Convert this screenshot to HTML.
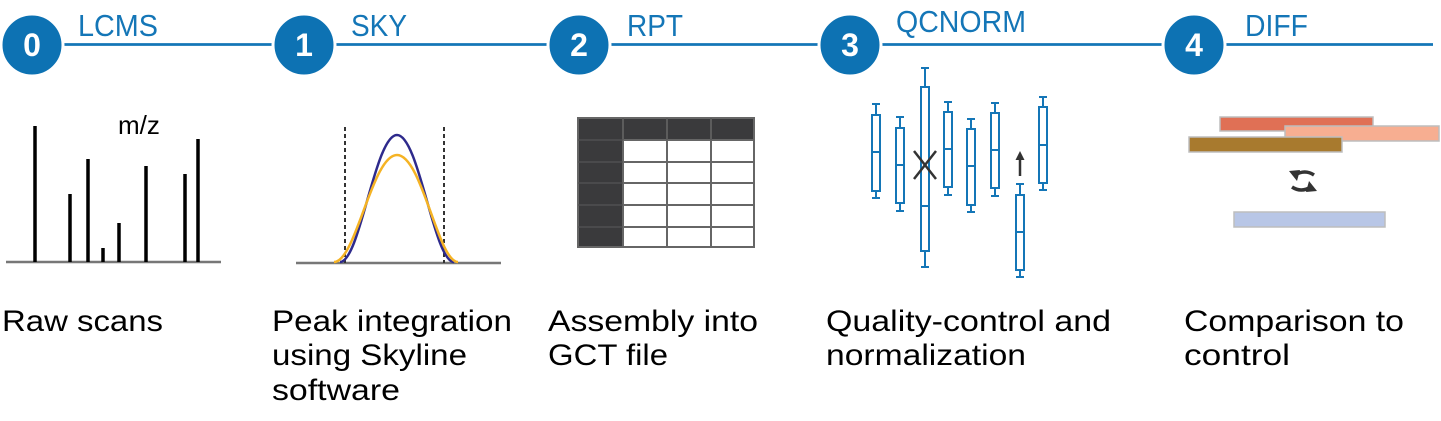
<!DOCTYPE html>
<html><head><meta charset="utf-8"><style>
html,body{margin:0;padding:0;background:#fff;}
svg{display:block;}
text{font-family:"Liberation Sans",sans-serif;}
</style></head><body>
<svg width="1441" height="421" viewBox="0 0 1441 421" xmlns="http://www.w3.org/2000/svg">
<line x1="50" y1="44.5" x2="1433" y2="44.5" stroke="#1476b7" stroke-width="2.8"/>
<g fill="#0d72b3" stroke="#fff" stroke-width="3">
<circle cx="32" cy="45" r="31"/>
<circle cx="304" cy="45" r="31"/>
<circle cx="579" cy="45" r="31"/>
<circle cx="850" cy="45" r="31"/>
<circle cx="1194" cy="45" r="31"/>
</g>
<g fill="#fff" font-size="32" font-weight="bold" text-anchor="middle">
<text x="32" y="56">0</text><text x="304" y="56">1</text><text x="579" y="56">2</text><text x="850" y="56">3</text><text x="1194" y="56">4</text>
</g>
<g fill="#1476b7" font-size="31">
<text x="78" y="36" textLength="80" lengthAdjust="spacingAndGlyphs">LCMS</text>
<text x="351" y="36" textLength="56" lengthAdjust="spacingAndGlyphs">SKY</text>
<text x="627" y="36" textLength="56" lengthAdjust="spacingAndGlyphs">RPT</text>
<text x="896" y="32" textLength="130" lengthAdjust="spacingAndGlyphs">QCNORM</text>
<text x="1245" y="36" textLength="63" lengthAdjust="spacingAndGlyphs">DIFF</text>
</g>
<line x1="6" y1="262" x2="221" y2="262" stroke="#777" stroke-width="2.5"/>
<g stroke="#000" stroke-width="3.5">
<line x1="35" y1="262" x2="35" y2="126"/>
<line x1="70" y1="262" x2="70" y2="194"/>
<line x1="88" y1="262" x2="88" y2="159"/>
<line x1="103" y1="262" x2="103" y2="248"/>
<line x1="119" y1="262" x2="119" y2="223"/>
<line x1="146" y1="262" x2="146" y2="166"/>
<line x1="185" y1="262" x2="185" y2="174"/>
<line x1="198" y1="262" x2="198" y2="139"/>
</g>
<text x="118" y="134" font-size="26">m/z</text>
<line x1="296" y1="263" x2="501" y2="263" stroke="#777" stroke-width="2.5"/>
<g stroke="#333" stroke-width="2" stroke-dasharray="4,3">
<line x1="345" y1="127" x2="345" y2="263"/>
<line x1="444" y1="127" x2="444" y2="263"/>
</g>
<path d="M340 262 C 360 262, 375 135, 397 135 C 419 135, 434 262, 454 262" fill="none" stroke="#2e2a8c" stroke-width="2.5"/>
<path d="M334 262 C 356 262, 372 155, 397 155 C 422 155, 438 262, 458 262" fill="none" stroke="#f5b324" stroke-width="2.5"/>
<rect x="578" y="118" width="176" height="22" fill="#3a3a3c"/>
<rect x="578" y="118" width="45" height="129" fill="#3a3a3c"/>
<g stroke="#666" stroke-width="2" fill="none">
<rect x="578" y="118" width="176" height="129"/>
<line x1="623" y1="140" x2="754" y2="140"/>
<line x1="623" y1="162" x2="754" y2="162"/>
<line x1="623" y1="183" x2="754" y2="183"/>
<line x1="623" y1="205" x2="754" y2="205"/>
<line x1="623" y1="227" x2="754" y2="227"/>
<line x1="623" y1="118" x2="623" y2="247"/>
<line x1="667" y1="118" x2="667" y2="247"/>
<line x1="711" y1="118" x2="711" y2="247"/>
</g>
<g stroke="#555" stroke-width="1.2">
<line x1="623" y1="118" x2="623" y2="140"/><line x1="667" y1="118" x2="667" y2="140"/><line x1="711" y1="118" x2="711" y2="140"/>
<line x1="578" y1="140" x2="623" y2="140"/><line x1="578" y1="162" x2="623" y2="162"/><line x1="578" y1="183" x2="623" y2="183"/><line x1="578" y1="205" x2="623" y2="205"/><line x1="578" y1="227" x2="623" y2="227"/>
</g>
<g stroke="#1476b7" stroke-width="2" fill="#fff">
<g><line x1="876" y1="104" x2="876" y2="198"/><line x1="872" y1="104" x2="880" y2="104"/><line x1="872" y1="198" x2="880" y2="198"/><rect x="872" y="115" width="8" height="76"/><line x1="872" y1="152" x2="880" y2="152"/></g>
<g><line x1="900" y1="117" x2="900" y2="211"/><line x1="896" y1="117" x2="904" y2="117"/><line x1="896" y1="211" x2="904" y2="211"/><rect x="896" y="128" width="8" height="75"/><line x1="896" y1="165" x2="904" y2="165"/></g>
<g><line x1="925" y1="68" x2="925" y2="267"/><line x1="921" y1="68" x2="929" y2="68"/><line x1="921" y1="267" x2="929" y2="267"/><rect x="921" y="87" width="8" height="164"/><line x1="921" y1="206" x2="929" y2="206"/></g>
<g><line x1="948" y1="102" x2="948" y2="195"/><line x1="944" y1="102" x2="952" y2="102"/><line x1="944" y1="195" x2="952" y2="195"/><rect x="944" y="112" width="8" height="75"/><line x1="944" y1="149" x2="952" y2="149"/></g>
<g><line x1="971" y1="119" x2="971" y2="212"/><line x1="967" y1="119" x2="975" y2="119"/><line x1="967" y1="212" x2="975" y2="212"/><rect x="967" y="129" width="8" height="76"/><line x1="967" y1="166" x2="975" y2="166"/></g>
<g><line x1="995" y1="103" x2="995" y2="196"/><line x1="991" y1="103" x2="999" y2="103"/><line x1="991" y1="196" x2="999" y2="196"/><rect x="991" y="113" width="8" height="75"/><line x1="991" y1="150" x2="999" y2="150"/></g>
<g><line x1="1020" y1="184" x2="1020" y2="277"/><line x1="1016" y1="184" x2="1024" y2="184"/><line x1="1016" y1="277" x2="1024" y2="277"/><rect x="1016" y="195" width="8" height="75"/><line x1="1016" y1="232" x2="1024" y2="232"/></g>
<g><line x1="1043" y1="97" x2="1043" y2="190"/><line x1="1039" y1="97" x2="1047" y2="97"/><line x1="1039" y1="190" x2="1047" y2="190"/><rect x="1039" y="107" width="8" height="76"/><line x1="1039" y1="145" x2="1047" y2="145"/></g>
</g>
<g stroke="#333" stroke-width="2.5">
<line x1="914" y1="151" x2="936" y2="179"/><line x1="936" y1="151" x2="914" y2="179"/>
<line x1="1020" y1="176" x2="1020" y2="158"/>
</g>
<polygon points="1020,151 1015.5,160 1024.5,160" fill="#333"/>
<g stroke="#bdbdbd" stroke-width="1.5">
<rect x="1220" y="117" width="153" height="14" fill="#e07055"/>
<rect x="1285" y="126" width="154" height="15" fill="#f7ae91"/>
<rect x="1189" y="137" width="153" height="15" fill="#a87a2e"/>
<rect x="1234" y="212" width="151" height="15" fill="#b8c6e6"/>
</g>
<g fill="none" stroke="#333" stroke-width="3.5">
<path d="M1314 175 Q 1305 169 1295 175"/>
<path d="M1292 187 Q 1301 193 1311 187"/>
</g>
<polygon points="1289,171 1297,181 1300,170" fill="#333"/>
<polygon points="1317,191 1309,181 1306,192" fill="#333"/>
<g font-size="30" fill="#000">
<text x="2" y="331" textLength="161" lengthAdjust="spacingAndGlyphs">Raw scans</text>
<text x="272" y="331" textLength="240" lengthAdjust="spacingAndGlyphs">Peak integration</text>
<text x="272" y="365" textLength="195" lengthAdjust="spacingAndGlyphs">using Skyline</text>
<text x="272" y="400" textLength="128" lengthAdjust="spacingAndGlyphs">software</text>
<text x="548" y="331" textLength="210" lengthAdjust="spacingAndGlyphs">Assembly into</text>
<text x="548" y="365" textLength="120" lengthAdjust="spacingAndGlyphs">GCT file</text>
<text x="826" y="331" textLength="285" lengthAdjust="spacingAndGlyphs">Quality-control and</text>
<text x="826" y="365" textLength="200" lengthAdjust="spacingAndGlyphs">normalization</text>
<text x="1184" y="331" textLength="220" lengthAdjust="spacingAndGlyphs">Comparison to</text>
<text x="1184" y="365" textLength="106" lengthAdjust="spacingAndGlyphs">control</text>
</g>
</svg>
</body></html>
